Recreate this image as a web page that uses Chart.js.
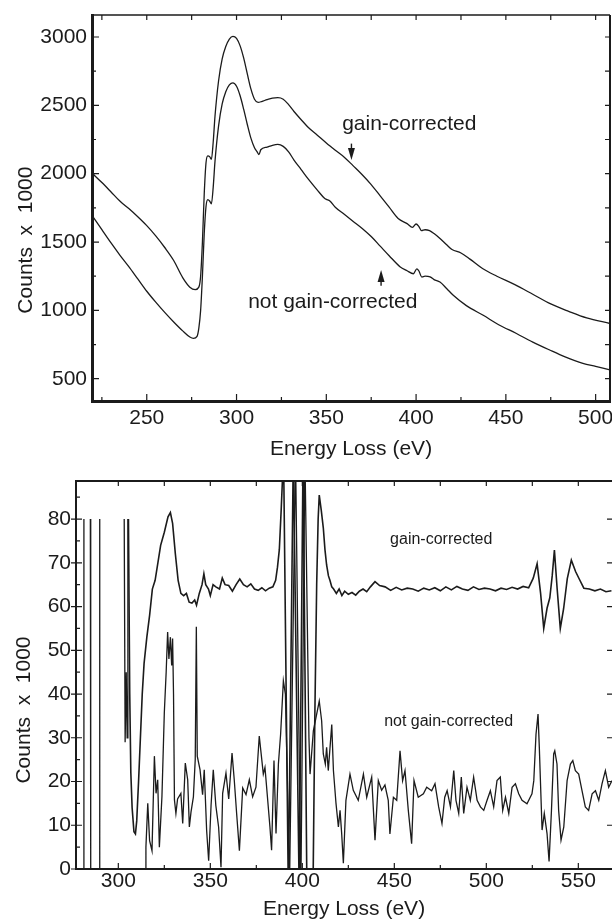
<!DOCTYPE html>
<html lang="en">
<head>
<meta charset="UTF-8" />
<title>Energy loss spectra, gain-corrected vs not gain-corrected</title>
<script src="https://cdn.jsdelivr.net/npm/chart.js@4.4.0/dist/chart.umd.min.js"></script>
<style>
  html, body { margin: 0; padding: 0; background: #fff; }
  body { width: 612px; height: 924px; position: relative; overflow: hidden; }
  canvas { position: absolute; left: 0; }
  #topChart { top: 0; }
  #bottomChart { top: 470px; }
</style>
</head>
<body>
<canvas id="topChart" width="612" height="470"></canvas>
<canvas id="bottomChart" width="612" height="454"></canvas>
<script>
// ---- top panel: spectra (counts x 1000) ----
const topGainEnergy = [
  219.5, 225, 230, 235, 240, 245, 250, 255, 260, 265,
  270, 274, 277, 279, 280, 281, 282, 283, 284, 285,
  286, 287, 288, 290, 292, 294, 296, 298, 300, 302,
  304, 306, 308, 310, 312, 314, 317, 320, 323, 326,
  329, 332, 336, 340, 345, 350, 355, 360, 365, 370,
  375, 380, 385, 390, 395, 398, 400, 401.5, 403, 405,
  407.5, 410, 413, 417, 420, 425, 430, 437, 445, 455,
  465, 475, 485, 495, 508
];
const topGainCounts = [
  2005, 1935, 1868, 1800, 1745, 1685, 1620, 1545, 1460, 1365,
  1240, 1170, 1152, 1170, 1250, 1500, 1850, 2080, 2130, 2125,
  2105, 2230, 2420, 2680, 2840, 2930, 2985, 3005, 2990, 2935,
  2845, 2730, 2620, 2545, 2522, 2528, 2542, 2553, 2556, 2545,
  2505, 2455, 2395, 2338, 2282, 2225, 2172, 2121, 2057, 1992,
  1920, 1838, 1755, 1672, 1635, 1607, 1632, 1615, 1583, 1590,
  1583, 1562, 1530, 1480, 1445, 1420, 1375, 1306, 1250, 1188,
  1118, 1047, 993, 945, 904
];
const topRawEnergy = [
  219.5, 225, 230, 235, 240, 245, 250, 255, 260, 265,
  270, 274, 276, 278, 279, 280, 281, 282, 283, 284,
  285, 286, 287, 288, 290, 292, 294, 296, 298, 300,
  302, 304, 306, 308, 310, 311.5, 312.5, 313.5, 317, 320,
  323, 326, 329, 332, 336, 340, 345, 349, 350, 352,
  355, 360, 365, 370, 375, 380, 385, 391, 395, 398.5,
  400.4, 401.5, 403.2, 405, 407.8, 410, 413.3, 417, 420.7, 428,
  437.4, 446, 455.9, 465, 474.4, 483, 492.9, 500, 508
];
const topRawCounts = [
  1695, 1590, 1495, 1405, 1320, 1230, 1140, 1060, 985, 915,
  850, 805, 795, 810, 870, 1000, 1250, 1560, 1760, 1810,
  1800, 1780, 1900, 2090, 2350, 2510, 2600, 2650, 2665, 2640,
  2570, 2470, 2360, 2260, 2190, 2160, 2140, 2175, 2195, 2208,
  2214, 2200, 2160, 2100, 2030, 1960, 1880, 1820, 1812, 1800,
  1755, 1703, 1651, 1599, 1540, 1470, 1400, 1320, 1290, 1268,
  1304, 1290, 1244, 1250, 1245, 1225, 1207, 1160, 1110, 1035,
  964, 895, 831, 768, 710, 660, 613, 590, 564
];
const topXTicks = [250, 300, 350, 400, 450, 500];
const topXMinor = [225, 275, 325, 375, 425, 475];
const topYTicks = [500, 1000, 1500, 2000, 2500, 3000];
const topYMinor = [750, 1250, 1750, 2250, 2750];

// ---- bottom panel: difference spectra (counts x 1000) ----
const botGainEnergy = [
  305.5, 306.2, 306.8, 307.5, 308.5, 309.3, 310, 311, 312, 313,
  314, 315.5, 317, 318.5, 320, 321.5, 323, 325, 327, 328.3,
  329.5, 331, 332.5, 334, 335.5, 337, 338.5, 340, 341.5, 342.5,
  344, 345.5, 346.5, 347.5, 349, 350, 351.5, 353, 355, 356.5,
  358, 360, 362, 364, 366, 368, 370, 372, 374, 376,
  378, 380, 382, 384, 385.5, 386.5, 387.5, 388.5, 389.8, 392.4,
  395.1, 398.3, 400.4, 402.5, 405.8, 406.8, 407.8, 408.6, 409.2, 410.3,
  411.4, 412.3, 413.2, 414.2, 415, 416, 417, 418.5, 420, 421.5,
  423, 425, 427, 429, 431, 433, 435, 437, 439.5, 442,
  445, 448, 451, 454, 457, 460, 463, 466, 469, 472,
  475, 478, 481, 484, 487, 490, 493, 496, 499, 502,
  505, 508, 511, 514, 517, 520, 523, 525.5, 527.6, 529.5,
  531.2, 533, 534.5, 535.8, 537, 538.5, 540.2, 542, 544, 546.2,
  548.5, 550.5, 553, 556, 559, 562, 565, 568
];
const botGainCounts = [
  80, 40, 22, 14, 8.5, 8, 11, 20, 30, 40,
  47, 53, 58, 64, 66, 70, 74, 77, 80.5, 81.5,
  79, 72, 66, 63, 62.5, 63, 61, 60.8, 61.5, 60.3,
  63, 65, 67.5, 65, 64, 62.5, 65, 64.5, 64, 66.5,
  65, 64.8, 63.5, 65, 66.3, 65, 64.5, 65.2, 64, 63.7,
  64.3, 63.6, 64.2, 64.5, 66, 69, 73, 82, 95, -5,
  95, -5, 95, -5, -5, 35, 65, 80, 85.5, 82,
  78, 73, 69.5, 67, 66, 64.5, 64, 63, 64, 62.5,
  63.5, 62.8, 63.2, 62.6, 63.5, 64, 63.4, 64.5, 65.7, 64.8,
  64.5, 63.7, 64.4, 63.8, 64.2, 64, 63.5, 64.2, 63.8, 64.3,
  63.6, 64.5, 63.8, 64.6, 64, 63.7, 64.5, 63.9, 64.2, 64,
  63.6, 64.2, 63.9, 64.4, 64, 64.6, 64.3, 66.5, 69.8, 63,
  55, 59.6, 62, 67, 72.9, 64, 55, 59.5, 66.4, 70.6,
  68, 66.3, 64.2, 64, 63.6, 64, 63.4, 63.6
];
const botRawEnergy = [
  280.9, 281.3, 283, 284.8, 285, 289.7, 289.9, 295, 303.2, 303.7,
  304.3, 304.8, 305.2, 310, 314.6, 315, 316, 317, 318.3, 319.6,
  320.5, 321.4, 322.3, 323.7, 325, 326, 326.8, 327.5, 328.3, 329,
  329.5, 330, 330.5, 331.3, 332.2, 334, 335, 336.4, 337.7, 338.6,
  339.5, 340.8, 341.8, 342.4, 342.9, 344.4, 345.8, 346.7, 348, 349.1,
  350.4, 351.6, 353, 354.5, 355.8, 356.7, 358.5, 360, 361.8, 363,
  364.3, 365.8, 367.6, 369.4, 371.2, 373, 374.8, 376.6, 378.8, 379.7,
  380.6, 382.4, 383.3, 384.6, 385.7, 387, 388.2, 389.7, 390.8, 391.9,
  393, 396.3, 399.2, 401.4, 403.6, 404.2, 406, 407.8, 409.2, 410.5,
  411.4, 412.5, 413.2, 414.1, 416, 416.9, 418.3, 419.6, 420.5, 421.4,
  422.3, 423.7, 425.9, 427.7, 430.4, 433.2, 435, 437.7, 439.5, 441.3,
  443.1, 444.9, 446.7, 447.6, 449.5, 451.3, 453.1, 454.5, 455.8, 457.6,
  459.4, 460.7, 463, 465.8, 467.6, 470.3, 472.1, 474.1, 475.9, 477.4,
  478.7, 480.5, 482.3, 483.5, 485, 486.4, 487.7, 489.5, 491.3, 493.1,
  495, 496.8, 498.6, 500.4, 502.2, 504, 505.8, 507.6, 508.9, 510.4,
  512.2, 514, 515.8, 517.6, 519.4, 522.1, 524.8, 525.8, 527, 528.1,
  528.8, 530.3, 531.5, 533, 534.1, 535.4, 536.6, 537.2, 538.4, 539.3,
  540.6, 542.1, 543.9, 545.7, 547, 548.4, 550.2, 552, 553.8, 555.6,
  557.5, 559.3, 561.1, 562.9, 564.7, 566.5, 568.3
];
const botRawCounts = [
  0, 80, null, 80, 0, 0, 80, null, 80, 29,
  45, 30, 80, null, 0, 5, 15, 6.5, 4.2, 25.8,
  17.3, 20.4, 5, 16.5, 35.8, 45, 54.2, 48, 53, 46.5,
  52.7, 40, 15.8, 12.7, 16, 17.3, 10.4, 24.2, 20.4, 9.6,
  13, 16.5, 25, 55.4, 25.8, 22.7, 17, 22.7, 8.8, 1.9,
  14.5, 22.7, 14.5, 9.6, 0.4, 17.3, 21.9, 16, 26.5, 20.4,
  12.7, 4.2, 18.5, 17, 20.4, 16.5, 18.7, 30.4, 21.7, 23.2,
  18.7, 9.6, 4.3, 24.8, 8.1, 24, 30.8, 43, 40, 20,
  -5, 95, -5, 95, 30, 21.7, 31.6, 35.4, 38.4, 33.9,
  26.3, 24, 27.8, 22.5, 33, 22.5, 15, 9.6, 13.4, 8,
  1.3, 15.7, 21.7, 18, 15.7, 21.7, 16.4, 21, 6.6, 20.2,
  18, 19.2, 15.7, 8, 16.4, 15.7, 27, 20.2, 22.5, 13.4,
  5.8, 20.2, 16.4, 17.2, 18.7, 17.9, 19.5, 14.2, 10.4, 16.4,
  17.9, 14.2, 22.5, 15.7, 12.7, 21, 12.7, 18.7, 15.7, 21,
  15.7, 14.2, 13.4, 15.7, 17.9, 14.2, 20.2, 21, 13.4, 16.4,
  12.7, 18.7, 19.5, 17.2, 15.7, 14.9, 17.2, 20.2, 30.8, 35.4,
  27.8, 8.9, 12.7, 8.1, 1.7, 13.4, 26.3, 27, 24, 13.4,
  6.6, 9.6, 20.2, 24, 24.8, 22.5, 21.7, 17.9, 14.2, 13.4,
  17.2, 17.9, 15.7, 19.5, 22.5, 18.7, 20.2
];
const botXTicks = [300, 350, 400, 450, 500, 550];
const botXMinor = [325, 375, 425, 475, 525];
const botYTicks = [0, 10, 20, 30, 40, 50, 60, 70, 80];
const botYMinor = [5, 15, 25, 35, 45, 55, 65, 75, 85];

const INK = '#1b1b1b';
const FONT = '"Liberation Sans", Arial, Helvetica, sans-serif';
const NBSP = '\u00a0';

// inward tick marks, top/right edges, and the in-plot notes with arrows
const frameMarks = {
  id: 'frameMarks',
  afterDatasetsDraw(chart, args, o) {
    const { ctx, chartArea: a, scales: { x, y } } = chart;
    ctx.save();
    ctx.strokeStyle = INK;
    ctx.fillStyle = INK;

    ctx.lineWidth = o.topEdge;
    ctx.beginPath();
    ctx.moveTo(a.left, a.top);
    ctx.lineTo(a.right, a.top);
    ctx.stroke();
    if (o.rightEdge) {
      ctx.lineWidth = o.rightEdge;
      ctx.beginPath();
      ctx.moveTo(a.right, a.top);
      ctx.lineTo(a.right, a.bottom);
      ctx.stroke();
    }

    ctx.lineWidth = 1.2;
    ctx.beginPath();
    const vTick = (v, yp, len) => { const p = x.getPixelForValue(v); ctx.moveTo(p, yp); ctx.lineTo(p, yp + len); };
    const hTick = (v, xp, len) => { const p = y.getPixelForValue(v); ctx.moveTo(xp, p); ctx.lineTo(xp + len, p); };
    o.xMajor.forEach(v => vTick(v, a.bottom, -o.major));
    o.xMinor.forEach(v => vTick(v, a.bottom, -o.minor));
    o.xMajor.concat(o.xMinor).forEach(v => vTick(v, a.top, o.minor + 1));
    o.yMajor.forEach(v => hTick(v, a.left - o.out, o.major + o.out));
    o.yMinor.forEach(v => hTick(v, a.left, o.minor));
    o.yRight.forEach(v => hTick(v, a.right, -o.minor - 1));
    ctx.stroke();

    ctx.textAlign = 'center';
    ctx.textBaseline = 'middle';
    o.notes.forEach(n => {
      ctx.font = n.size + 'px ' + FONT;
      ctx.fillText(n.text, x.getPixelForValue(n.x), y.getPixelForValue(n.y));
    });

    o.arrows.forEach(ar => {
      const px = x.getPixelForValue(ar.x);
      const t = y.getPixelForValue(ar.tail);
      const h = y.getPixelForValue(ar.head);
      const dir = Math.sign(h - t);
      ctx.lineWidth = 1.4;
      ctx.beginPath();
      ctx.moveTo(px, t);
      ctx.lineTo(px, h - dir * 8);
      ctx.stroke();
      ctx.beginPath();
      ctx.moveTo(px, h);
      ctx.lineTo(px - 3.5, h - dir * 12);
      ctx.lineTo(px + 3.5, h - dir * 12);
      ctx.closePath();
      ctx.fill();
    });
    ctx.restore();
  }
};
Chart.register(frameMarks);

const line = (xs, ys, width, smooth) => ({
  data: xs.map((v, i) => ({ x: v, y: ys[i] })),
  borderColor: INK,
  borderWidth: width,
  pointRadius: 0,
  fill: false,
  tension: 0,
  cubicInterpolationMode: smooth ? 'monotone' : 'default',
  spanGaps: false
});

function panelOptions(p) {
  const tickFont = { family: FONT, size: 21 };
  return {
    responsive: false,
    animation: false,
    events: [],
    layout: { padding: { left: 0, right: p.padRight, top: p.padTop, bottom: 0 } },
    plugins: {
      legend: { display: false },
      tooltip: { enabled: false },
      frameMarks: p.marks
    },
    scales: {
      x: {
        type: 'linear',
        min: p.xMin,
        max: p.xMax,
        grid: { display: false, drawTicks: false },
        border: { display: true, width: p.axisWidth, color: INK },
        afterBuildTicks: s => { s.ticks = p.xTicks.map(v => ({ value: v })); },
        afterFit: s => { s.height = p.xHeight; s.paddingLeft = 0; s.paddingRight = 0; },
        ticks: { color: INK, font: tickFont, padding: p.xPad, maxRotation: 0, autoSkip: false, callback: v => String(v) },
        title: { display: true, text: 'Energy Loss (eV)', color: INK, font: tickFont, padding: { top: 0, bottom: p.xTitlePad } }
      },
      y: {
        type: 'linear',
        min: p.yMin,
        max: p.yMax,
        grid: { display: false, drawTicks: false },
        border: { display: true, width: p.axisWidth, color: INK },
        afterBuildTicks: s => { s.ticks = p.yTicks.map(v => ({ value: v })); },
        afterFit: s => { s.width = p.yWidth; s.paddingTop = 0; s.paddingBottom = 0; },
        ticks: { color: INK, font: tickFont, padding: 5, autoSkip: false, callback: v => String(v) },
        title: {
          display: true,
          // trailing spaces push the centred title down, as in the original
          text: 'Counts  x  1000' + NBSP.repeat(p.titleShift),
          color: INK,
          font: tickFont,
          padding: { top: p.yTitlePad, bottom: 0 }
        }
      }
    }
  };
}

new Chart(document.getElementById('topChart'), {
  type: 'line',
  data: {
    datasets: [
      line(topGainEnergy, topGainCounts, 1.3, true),
      line(topRawEnergy, topRawCounts, 1.3, true)
    ]
  },
  options: panelOptions({
    padTop: 15, padRight: 2, xHeight: 69, yWidth: 92,
    xPad: 5, xTitlePad: 8, yTitlePad: 14, titleShift: 11,
    xMin: 219.5, xMax: 508, yMin: 337, yMax: 3161, axisWidth: 3,
    xTicks: topXTicks, yTicks: topYTicks,
    marks: {
      topEdge: 1.6, rightEdge: 2,
      major: 7, minor: 4, out: 0,
      xMajor: topXTicks, xMinor: topXMinor,
      yMajor: topYTicks, yMinor: topYMinor,
      yRight: topYTicks.concat(topYMinor),
      notes: [
        { x: 396.2, y: 2360, text: 'gain-corrected', size: 21 },
        { x: 353.6, y: 1061, text: 'not gain-corrected', size: 21 }
      ],
      arrows: [
        { x: 364, tail: 2220, head: 2100 },
        { x: 380.5, tail: 1180, head: 1295 }
      ]
    }
  })
});

new Chart(document.getElementById('bottomChart'), {
  type: 'line',
  data: {
    datasets: [
      line(botGainEnergy, botGainCounts, 1.6, false),
      line(botRawEnergy, botRawCounts, 1.3, false)
    ]
  },
  options: panelOptions({
    padTop: 11, padRight: 0, xHeight: 55, yWidth: 76,
    xPad: 0, xTitlePad: 2, yTitlePad: 12, titleShift: 12,
    xMin: 277, xMax: 568.3, yMin: 0, yMax: 88.7, axisWidth: 2,
    xTicks: botXTicks, yTicks: botYTicks,
    marks: {
      topEdge: 2, rightEdge: 0,
      major: 6, minor: 4, out: 5,
      xMajor: botXTicks, xMinor: botXMinor,
      yMajor: botYTicks, yMinor: botYMinor,
      yRight: botYTicks,
      notes: [
        { x: 475.5, y: 75.3, text: 'gain-corrected', size: 16 },
        { x: 479.5, y: 33.6, text: 'not gain-corrected', size: 16 }
      ],
      arrows: []
    }
  })
});
</script>
</body>
</html>
